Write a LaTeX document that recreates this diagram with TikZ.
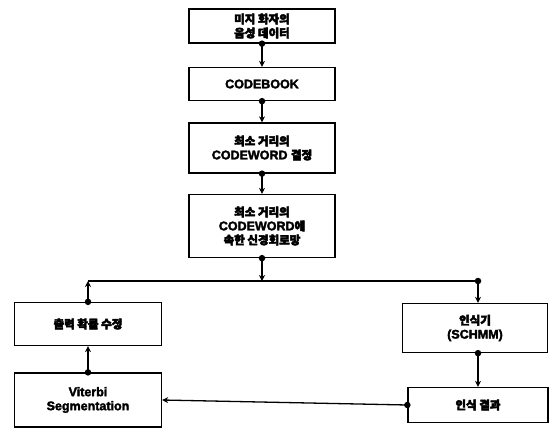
\documentclass[tikz,border=0pt]{standalone}
\usepackage{fontspec}
\setmainfont[FakeBold=2.5,BoldFeatures={FakeBold=2.5}]{Liberation Sans}
\newfontfamily\kr[FakeBold=4,BoldFeatures={FakeBold=4}]{Noto Sans CJK KR}
\newcommand\hg[1]{{\kr\fontsize{11.5}{14}\selectfont #1}}
\usetikzlibrary{arrows.meta}
\begin{document}
\begin{tikzpicture}[x=1pt,y=-1pt,
  box/.style={draw,line width=1.3pt,align=center,font=\bfseries\fontsize{12.5}{14}\selectfont,inner sep=0pt},
  tip/.style={line width=1.3pt,arrows={-Stealth[length=6pt,width=6pt]}},
  wire/.style={line width=1.3pt},
  dot/.style={circle,fill,inner sep=0pt,minimum size=6.5pt}]
\useasboundingbox (0,0) rectangle (554,437);
% processing chain
\node[box,minimum width=146pt,minimum height=34pt] (voice) at (262,26) {\hg{미지 화자의}\\\hg{음성 데이터}};
\node[box,minimum width=146pt,minimum height=33pt] (cb) at (262,84) {CODEBOOK};
\node[box,minimum width=146pt,minimum height=50pt] (cw) at (262,148) {\hg{최소 거리의}\\CODEWORD \hg{결정}};
\node[box,minimum width=146pt,minimum height=63pt] (nn) at (262,226) {\hg{최소 거리의}\\CODEWORD\hg{에}\\\hg{속한 신경회로망}};
% lower blocks
\node[box,minimum width=147pt,minimum height=43pt] (prob) at (88,324) {\hg{출력 확률 수정}};
\node[box,minimum width=147pt,minimum height=54pt] (vit) at (88,400) {Viterbi\\Segmentation};
\node[box,minimum width=145pt,minimum height=49pt] (rec) at (475,328) {\hg{인식기}\\(SCHMM)};
\node[box,minimum width=140pt,minimum height=35pt] (res) at (478,405) {\hg{인식 결과}};
% connection dots on the block outlines and the distribution line
\node[dot] (d1) at (voice.south) {};
\node[dot] (d2) at (cb.south) {};
\node[dot] (d3) at (cw.south) {};
\node[dot] (d4) at (nn.south) {};
\node[dot] (d5) at (prob.north) {};
\node[dot] (d6) at (vit.north) {};
\node[dot] (d7) at (rec.south -| res.north) {};
\node[dot] (d8) at (res.west) {};
\coordinate (j) at (262,281);
\coordinate (jl) at (88,281);
\node[dot] (jr) at (478,281) {};
% connectors
\draw[tip] (d1.center) -- (cb.north);
\draw[tip] (d2.center) -- (cw.north);
\draw[tip] (d3.center) -- (nn.north);
\draw[tip] (d4.center) -- (j);
\draw[wire] (jl) -- (jr.center);
\draw[tip] (jr.center) -- (jr |- rec.north);
\draw[tip] (d5.center) -- (jl);
\draw[tip] (d6.center) -- (prob.south);
\draw[tip] (d7.center) -- (res.north);
\draw[tip] (d8.center) -- (vit.east);
\end{tikzpicture}
\end{document}
